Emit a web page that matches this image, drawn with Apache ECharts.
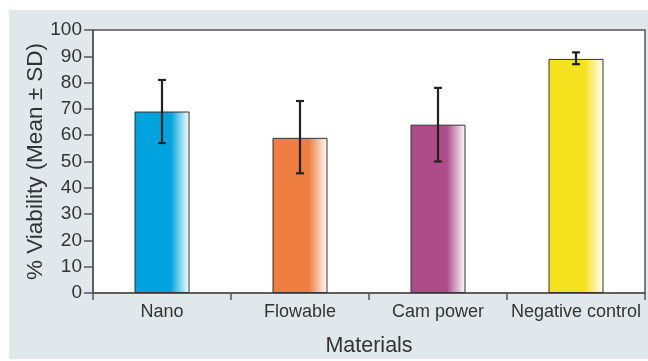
<!DOCTYPE html>
<html><head><meta charset="utf-8">
<script src="https://cdn.jsdelivr.net/npm/echarts@6/dist/echarts.min.js"></script>
<style>html,body{margin:0;padding:0;background:#fff}#c{width:648px;height:361px}</style>
</head><body><div id="c"></div>
<script>
const categories = ['Nano', 'Flowable', 'Cam power', 'Negative control'];
const means = [69, 59, 64, 89];
const upper = [81, 73, 78, 91.5];
const lower = [57, 45.5, 50, 87];
const barColors = ['#00a3dd', '#ee7d40', '#ad4c89', '#f5e21e'];
const yTicks = [0,10,20,30,40,50,60,70,80,90,100];

const chart = echarts.init(document.getElementById('c'), null, {renderer:'canvas'});
function grad(c){
  return {type:'linear', x:0, y:0, x2:1, y2:0, colorStops:[
    {offset:0, color:c},{offset:0.66, color:c},{offset:1, color:'#ffffff'}]};
}
const font = 'Liberation Sans, Arial, sans-serif';
chart.setOption({
  animation:false,
  backgroundColor:'#ffffff',
  graphic:[{type:'rect', z:-10, shape:{x:9,y:10,width:639,height:349}, style:{fill:'#e1e8ec'}},
           {type:'rect', z:-9, shape:{x:93,y:30,width:552,height:263}, style:{fill:'#ffffff'}}],
  grid:{left:93, right:3, top:30, bottom:68, containLabel:false, outerBoundsMode:'none',
    show:true, borderColor:'#555', borderWidth:1.5, backgroundColor:'transparent'},
  xAxis:{type:'category', data:categories,
    axisLine:{lineStyle:{color:'#555', width:1.5}},
    axisTick:{show:true, length:7, lineStyle:{color:'#555', width:1.5}},
    axisLabel:{color:'#333', fontSize:18, fontFamily:font, margin:10, interval:0},
    name:'Materials', nameLocation:'middle', nameGap:42, nameMoveOverlap:false,
    nameTextStyle:{color:'#333', fontSize:21.5, fontFamily:font}},
  yAxis:{type:'value', min:0, max:100, interval:10,
    splitLine:{show:false},
    axisLine:{show:true, lineStyle:{color:'#555', width:1.5}},
    axisTick:{show:true, length:9, lineStyle:{color:'#555', width:1.5}},
    axisLabel:{color:'#333', fontSize:19, fontFamily:font, margin:11,
      formatter:v=>yTicks.includes(v)?String(v):''},
    name:'% Viability (Mean ± SD)', nameLocation:'middle', nameGap:46, nameMoveOverlap:false,
    nameTextStyle:{color:'#333', fontSize:22.5, fontFamily:font}},
  series:[
    {type:'bar', barWidth:55,
     data:means.map((v,i)=>({value:v, itemStyle:{color:grad(barColors[i])}})),
     itemStyle:{borderColor:'#333', borderWidth:1}},
    {type:'custom', z:5,
     data:categories.map((c,i)=>[i, lower[i], upper[i]]),
     renderItem:function(params, api){
       const x = api.coord([api.value(0), api.value(1)])[0];
       const yl = api.coord([api.value(0), api.value(1)])[1];
       const yu = api.coord([api.value(0), api.value(2)])[1];
       const st = {stroke:'#222', lineWidth:2.2};
       const w = 4;
       return {type:'group', children:[
         {type:'line', shape:{x1:x,y1:yl,x2:x,y2:yu}, style:st},
         {type:'line', shape:{x1:x-w,y1:yu,x2:x+w,y2:yu}, style:st},
         {type:'line', shape:{x1:x-w,y1:yl,x2:x+w,y2:yl}, style:st}
       ]};
     }}
  ]
});
</script></body></html>
